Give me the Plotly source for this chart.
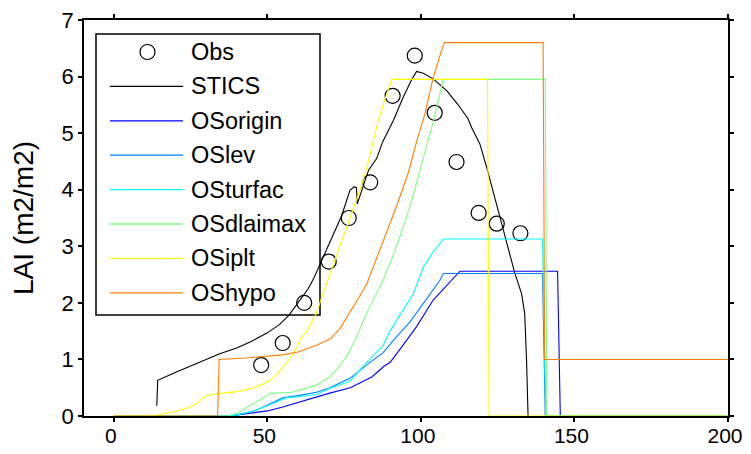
import plotly.graph_objects as go

# ---------------- data ----------------
obs_day = [48, 55, 62, 70, 76.5, 83.5, 90.8, 98, 104.5, 111.6, 118.8, 124.7, 132.4]
obs_lai = [0.90, 1.29, 2.00, 2.73, 3.50, 4.13, 5.66, 6.37, 5.36, 4.49, 3.59, 3.40, 3.23]

stics_day = [14.0, 14.3, 20, 25, 30, 34.5, 40, 44.4, 50, 54, 57, 60.5, 63.3, 65, 67.2, 70.4,
             74.2, 76.9, 78.2, 79, 79.3, 81.8, 83, 85.6, 87.5, 91, 94.2, 97, 98.6, 100.8, 104,
             108.4, 112, 115.4, 116.5, 119.2, 121.4, 124.6, 127.9, 130.6, 132.8, 133.8, 134.4, 134.9]
stics_lai = [0.18, 0.63, 0.77, 0.88, 0.99, 1.10, 1.20, 1.31, 1.47, 1.62, 1.78, 2.05, 2.25, 2.42, 2.69, 3.10,
             3.54, 3.99, 4.05, 4.04, 3.75, 4.16, 4.35, 4.55, 4.84, 5.22, 5.63, 5.95, 6.09, 6.06, 5.96,
             5.75, 5.51, 5.25, 5.10, 4.81, 4.40, 3.75, 3.10, 2.52, 2.16, 1.81, 0.99, 0.0]

origin_day = [0, 38, 44.4, 50, 55, 60, 66, 70, 77, 84, 88, 90, 94, 98.6, 104, 107, 110, 112.7, 144.5, 145.4, 200]
origin_lai = [0, 0, 0.05, 0.09, 0.16, 0.24, 0.34, 0.40, 0.50, 0.69, 0.88, 0.95, 1.24, 1.58, 2.05, 2.22, 2.40, 2.56, 2.56, 0, 0]

lev_day = [0, 38, 40, 45, 48, 52, 55, 60, 66, 70, 77, 83, 87.7, 92, 96.4, 100.8, 104, 106.2, 107.3, 139.6, 140.5, 200]
lev_lai = [0, 0, 0.02, 0.08, 0.14, 0.24, 0.32, 0.36, 0.42, 0.49, 0.67, 0.93, 1.12, 1.40, 1.66, 1.99, 2.23, 2.40, 2.52, 2.52, 0, 0]

turfac_day = [0, 37, 40, 45, 50, 54, 56, 60, 66, 70, 74, 77, 81, 85.6, 87.7, 89.9, 94.2, 97.5, 100.8, 104, 107.3, 139.6, 140.7, 200]
turfac_lai = [0, 0, 0.02, 0.08, 0.18, 0.28, 0.32, 0.34, 0.38, 0.48, 0.56, 0.62, 0.87, 1.13, 1.25, 1.50, 1.87, 2.16, 2.63, 2.90, 3.13, 3.13, 0, 0]

dlaimax_day = [0, 37, 40, 44, 48, 51, 58, 62, 66, 70.4, 73, 75.8, 79.1, 82.3, 85, 87.7, 91, 94, 97, 99.7, 101.9, 104, 107.3, 140.5, 141, 200]
dlaimax_lai = [0, 0, 0.05, 0.17, 0.30, 0.40, 0.42, 0.48, 0.55, 0.69, 0.85, 1.05, 1.40, 1.81, 2.10, 2.40, 2.85, 3.30, 3.80, 4.34, 4.80, 5.20, 5.95, 5.95, 0, 0]

iplt_day = [0, 12.9, 16, 20, 24, 27, 29, 31, 35, 40, 44.4, 48, 50.9, 53, 55.2, 57.5, 59.6, 61, 62.8, 66, 69,
            72.6, 76.9, 80, 82.3, 84.5, 86, 88, 90.5, 121.7, 122.2, 200]
iplt_lai = [0, 0, 0.04, 0.08, 0.14, 0.22, 0.32, 0.37, 0.40, 0.43, 0.48, 0.55, 0.63, 0.73, 0.87, 1.03, 1.22, 1.38, 1.50, 1.82, 2.30,
            2.85, 3.50, 3.97, 4.37, 4.85, 5.20, 5.55, 5.95, 5.95, 0, 0]

hypo_day = [0, 33.8, 34.3, 44, 55, 60, 66, 70.4, 73.7, 76.9, 80.1, 82.5, 85, 88, 92, 95.9, 98.6, 101.3, 104, 106.7, 107.6, 139.8, 140.3, 200]
hypo_lai = [0, 0, 1.0, 1.03, 1.08, 1.13, 1.25, 1.36, 1.55, 1.83, 2.12, 2.35, 2.70, 3.15, 3.70, 4.30, 4.85, 5.34, 5.98, 6.46, 6.60, 6.60, 1.0, 1.0]

series_names = ["OSorigin", "OSlev", "OSturfac", "OSdlaimax", "OSiplt", "OShypo"]
series_days = [origin_day, lev_day, turfac_day, dlaimax_day, iplt_day, hypo_day]
series_lai = [origin_lai, lev_lai, turfac_lai, dlaimax_lai, iplt_lai, hypo_lai]
series_colors = ["#0000FF", "#0080FF", "#00FFFF", "#80FF80", "#FFFF00", "#FF8000"]

x_ticks = [0, 50, 100, 150, 200]
y_ticks = [0, 1, 2, 3, 4, 5, 6, 7]

FONT = "Liberation Sans, Arial, sans-serif"

fig = go.Figure()
fig.add_trace(go.Scatter(x=obs_day, y=obs_lai, mode="markers", name="Obs",
                         marker=dict(symbol="circle-open", size=15, color="black", line=dict(width=1.2))))
fig.add_trace(go.Scatter(x=stics_day, y=stics_lai, mode="lines", name="STICS",
                         line=dict(color="black", width=1.1)))
for nm, dx, dy, c in zip(series_names, series_days, series_lai, series_colors):
    fig.add_trace(go.Scatter(x=dx, y=dy, mode="lines", name=nm, line=dict(color=c, width=1.1)))

# page body has an 8 px default margin; keep the page inside the 751x454 window (no scrollbars)
BODY = 8
W, H = 751 - 2 * BODY, 454 - 2 * BODY
PL, PR, PT, PB = 84, 728, 20, 416          # plot area in window pixels
ml, mt = PL - BODY, PT - BODY
mr = W - ml - (PR - PL)
mb = H - mt - (PB - PT)


def px(xp):
    return (xp - PL) / (PR - PL)


def py(yp):
    return (PB - yp) / (PB - PT)


shapes = [dict(type="rect", xref="paper", yref="paper", x0=px(96), x1=px(320), y0=py(315), y1=py(34),
               line=dict(color="black", width=1.5), fillcolor="white", layer="below")]
annotations = []
legend_names = ["Obs", "STICS"] + series_names
legend_colors = ["black", "black"] + series_colors
for i, (nm, c) in enumerate(zip(legend_names, legend_colors)):
    yp = 52 + 34.4 * i
    if i == 0:
        shapes.append(dict(type="circle", xref="paper", yref="paper", xsizemode="pixel", ysizemode="pixel",
                           xanchor=px(147.5), yanchor=py(yp), x0=-7.5, x1=7.5, y0=-7.5, y1=7.5,
                           line=dict(color="black", width=1.2)))
    else:
        shapes.append(dict(type="line", xref="paper", yref="paper", x0=px(110), x1=px(183), y0=py(yp), y1=py(yp),
                           line=dict(color=c, width=1.3)))
    annotations.append(dict(xref="paper", yref="paper", x=px(189), y=py(yp), text=nm, showarrow=False,
                            xanchor="left", yanchor="middle", font=dict(family=FONT, size=23.5, color="black")))

fig.update_layout(
    width=W, height=H,
    margin=dict(l=ml, r=mr, t=mt, b=mb),
    paper_bgcolor="white", plot_bgcolor="white",
    showlegend=False,
    shapes=shapes, annotations=annotations,
    font=dict(family=FONT, size=22, color="black"),
    xaxis=dict(range=[-9.7, 200], tickvals=x_ticks, showgrid=False, zeroline=False, automargin=False,
               showline=True, linecolor="black", linewidth=1.5, mirror="ticks",
               ticks="outside", ticklen=4, tickcolor="black", tickwidth=1.5,
               ticklabeloverflow="allow", ticklabelstandoff=-4, ticklabelshift=-3,
               tickfont=dict(family=FONT, size=21)),
    yaxis=dict(range=[0, 7], tickvals=y_ticks, showgrid=False, zeroline=False, automargin=False,
               showline=True, linecolor="black", linewidth=1.5, mirror="ticks",
               ticks="outside", ticklen=4, tickcolor="black", tickwidth=1.5,
               ticklabeloverflow="allow", tickfont=dict(family=FONT, size=22),
               title=dict(text="LAI (m2/m2)", font=dict(family=FONT, size=28), standoff=20)),
)

fig.write_html("out.html")
